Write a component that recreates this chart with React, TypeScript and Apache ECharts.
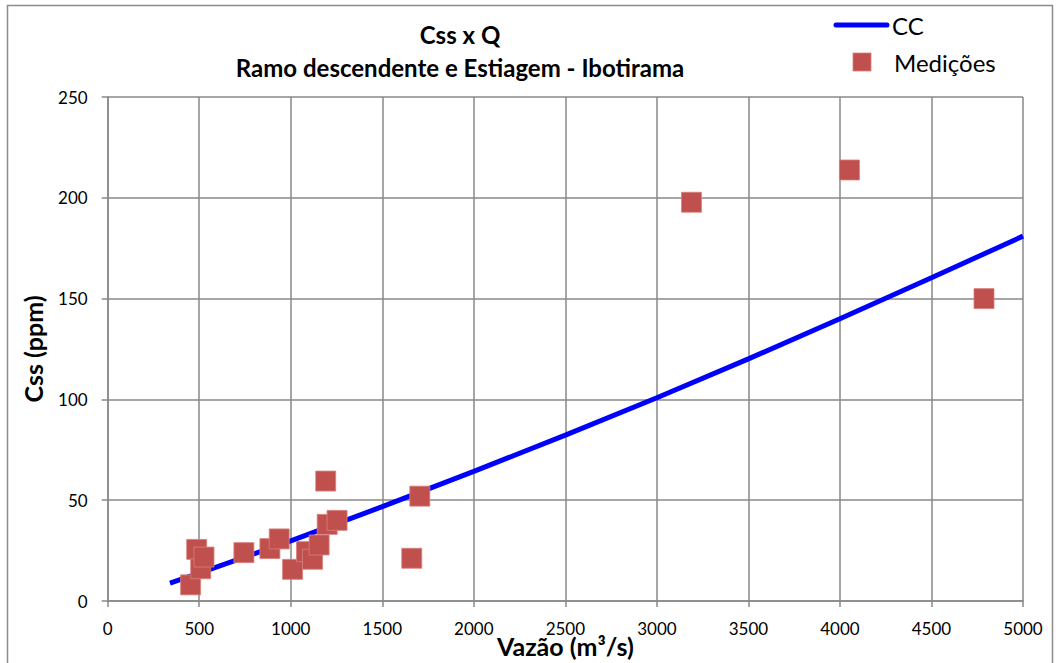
import React, { useEffect, useRef } from "react";
import * as echarts from "echarts";

const titleLines = ["Css x Q", "Ramo descendente e Estiagem - Ibotirama"];
const xAxisName = "Vazão (m³/s)";
const yAxisName = "Css (ppm)";
const seriesNames = ["CC", "Medições"];

// Medições: [Vazão, Css]
const measuredQ = [453, 486, 508, 526, 744, 886, 937, 1010, 1086, 1119, 1155, 1191, 1199, 1253, 1661, 1705, 3189, 4052, 4787];
const measuredC = [8, 25.6, 16, 21.8, 24, 26, 30.8, 15.7, 24.5, 20.7, 27.8, 59.5, 38, 40, 21.2, 52, 197.8, 213.8, 150];

// CC curve read at gridlines
const curveQ = [340, 500, 1000, 1500, 2000, 2500, 3000, 3500, 4000, 4500, 5000];
const curveC = [8.9, 13.8, 29.8, 46.8, 64.3, 82.3, 100.8, 120.1, 140, 160.3, 181];

const FONT = "Lato, 'Open Sans', sans-serif";

export default function App() {
  const ref = useRef<HTMLDivElement>(null);
  useEffect(() => {
    if (!ref.current) return;
    const chart = echarts.init(ref.current, null, { renderer: "svg" });
    const measured = measuredQ.map((q, i) => [q, measuredC[i]]);
    const curve = curveQ.map((q, i) => [q, curveC[i]]);
    chart.setOption({
      animation: false,
      backgroundColor: "#ffffff",
      textStyle: { fontFamily: FONT },
      title: {
        text: titleLines.join("\n"),
        left: 455,
        top: 13,
        textAlign: "center",
        textStyle: { fontFamily: FONT, fontSize: 24, fontWeight: "bold", color: "#000", lineHeight: 33 },
      },
      legend: { show: false },
      grid: { left: 107.7, right: 33, top: 97, bottom: 62, containLabel: false, outerBoundsMode: "none" },
      xAxis: {
        type: "value",
        min: 0,
        max: 5000,
        interval: 500,
        name: xAxisName,
        nameLocation: "middle",
        nameGap: 32,
        nameMoveOverlap: false,
        nameTextStyle: { fontFamily: FONT, fontSize: 25, fontWeight: "bold", color: "#000" },
        axisLine: { show: true, lineStyle: { color: "#888888", width: 1.5 } },
        axisTick: { show: true, length: 6, lineStyle: { color: "#888888", width: 1.5 } },
        axisLabel: { fontFamily: FONT, fontSize: 17, color: "#000", margin: 19, formatter: (v: number) => String(v) },
        splitLine: { show: true, lineStyle: { color: "#888888", width: 1.5 } },
      },
      yAxis: {
        type: "value",
        min: 0,
        max: 250,
        interval: 50,
        name: yAxisName,
        nameLocation: "middle",
        nameGap: 62,
        nameMoveOverlap: false,
        nameRotate: 90,
        nameTextStyle: { fontFamily: FONT, fontSize: 25, fontWeight: "bold", color: "#000" },
        axisLine: { show: true, lineStyle: { color: "#888888", width: 1.5 } },
        axisTick: { show: true, length: 6, lineStyle: { color: "#888888", width: 1.5 } },
        axisLabel: { fontFamily: FONT, fontSize: 17, color: "#000", margin: 20 },
        splitLine: { show: true, lineStyle: { color: "#888888", width: 1.5 } },
      },
      series: [
        {
          name: seriesNames[0],
          type: "line",
          data: curve,
          smooth: false,
          showSymbol: false,
          lineStyle: { color: "#0000ff", width: 5 },
          z: 2,
        },
        {
          name: seriesNames[1],
          type: "scatter",
          data: measured,
          symbol: "rect",
          symbolSize: 20,
          itemStyle: { color: "#c0504d", opacity: 1, borderColor: "#d9807d", borderWidth: 0.8 },
          z: 3,
        },
      ],
      graphic: [
        {
          type: "rect",
          shape: { x: 7.5, y: 5.5, width: 1045, height: 680 },
          style: { fill: "none", stroke: "#8c8c8c", lineWidth: 1.5 },
          silent: true,
          z: -1,
        },
        {
          type: "line",
          shape: { x1: 836, y1: 25, x2: 887, y2: 25 },
          style: { stroke: "#0000ff", lineWidth: 5, lineCap: "round" },
        },
        {
          type: "text",
          x: 892,
          y: 25,
          style: { text: seriesNames[0], fontFamily: FONT, fontSize: 24, fill: "#000", textVerticalAlign: "middle" },
        },
        {
          type: "rect",
          shape: { x: 853, y: 53, width: 18, height: 18 },
          style: { fill: "#c0504d", stroke: "#d9807d", lineWidth: 0.8 },
        },
        {
          type: "text",
          x: 894,
          y: 62,
          style: { text: seriesNames[1], fontFamily: FONT, fontSize: 24, fill: "#000", textVerticalAlign: "middle" },
        },
      ],
    });
    return () => chart.dispose();
  }, []);
  return (
    <div
      ref={ref}
      style={{ position: "absolute", left: 0, top: 0, width: 1056, height: 663 }}
    />
  );
}
